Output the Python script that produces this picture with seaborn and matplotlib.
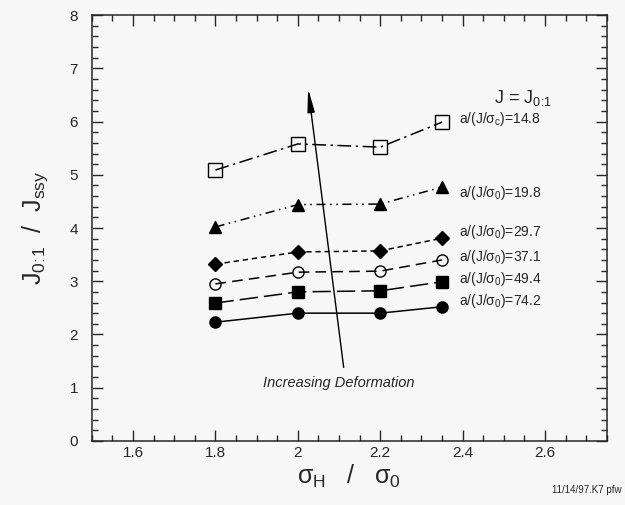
import numpy as np
import pandas as pd
import seaborn as sns
import matplotlib.pyplot as plt
from matplotlib.ticker import MultipleLocator

# values
stress_ratio = [1.8, 2.0, 2.2, 2.35]
j_sq_open = [5.09, 5.58, 5.52, 5.99]
j_tri = [4.02, 4.44, 4.45, 4.77]
j_diamond = [3.32, 3.55, 3.57, 3.81]
j_circ_open = [2.95, 3.17, 3.19, 3.40]
j_sq_filled = [2.59, 2.80, 2.82, 2.99]
j_circ_filled = [2.23, 2.40, 2.40, 2.52]
labels = ['a/(J/$\\sigma_c$)=14.8', 'a/(J/$\\sigma_0$)=19.8', 'a/(J/$\\sigma_0$)=29.7',
          'a/(J/$\\sigma_0$)=37.1', 'a/(J/$\\sigma_0$)=49.4', 'a/(J/$\\sigma_0$)=74.2']
label_y = [6.05, 4.65, 3.92, 3.46, 3.04, 2.62]

series = [j_sq_open, j_tri, j_diamond, j_circ_open, j_sq_filled, j_circ_filled]
rows = []
for lab, vals in zip(labels, series):
    for x, v in zip(stress_ratio, vals):
        rows.append({'ratio': x, 'J': v, 'case': lab})
df = pd.DataFrame(rows)

sns.set_style('ticks')
plt.rcParams['font.family'] = ['Liberation Sans', 'DejaVu Sans']
plt.rcParams['mathtext.fontset'] = 'custom'
plt.rcParams['mathtext.rm'] = 'Liberation Sans'
plt.rcParams['mathtext.it'] = 'Liberation Sans'

fig = plt.figure(figsize=(6.25, 5.05), dpi=100, facecolor='#f7f7f7')
ax = fig.add_axes([0.147, 0.127, 0.824, 0.843])
ax.set_facecolor('#f7f7f7')

styles = [
    ('s', 'none', (0, (9, 3, 1.5, 3))),
    ('^', 'k', (0, (6, 3, 1, 3, 1, 3))),
    ('D', 'k', (0, (3.5, 2.5))),
    ('o', 'none', (0, (7, 4))),
    ('s', 'k', (0, (12, 4))),
    ('o', 'k', '-'),
]
sizes = [10, 8, 7, 8, 9, 8]
for (lab, (mk, fc, ls)), ms in zip(zip(labels, styles), sizes):
    sub = df[df['case'] == lab]
    sns.lineplot(data=sub, x='ratio', y='J', ax=ax, color='k', lw=1.1,
                 linestyle=ls, marker=mk, markersize=ms, markerfacecolor=fc,
                 markeredgecolor='k', markeredgewidth=1.0, legend=False)

for lab, ly in zip(labels, label_y):
    ax.text(2.39, ly, lab, fontsize=10, va='center', ha='left')

ax.text(2.475, 6.45, 'J = J$_{0\\!:\\!1}$', fontsize=13, va='center', ha='left')
ax.annotate('', xy=(2.024, 6.67), xytext=(2.112, 1.33),
            arrowprops=dict(arrowstyle='-|>,head_length=1.4,head_width=0.22',
                            color='k', lw=1.0))
ax.text(2.10, 1.09, 'Increasing Deformation', fontsize=10.5, style='italic',
        ha='center', va='center')

ax.set_xlim(1.5, 2.75)
ax.set_ylim(0, 8)
ax.xaxis.set_major_locator(MultipleLocator(0.2))
ax.xaxis.set_minor_locator(MultipleLocator(0.05))
ax.yaxis.set_major_locator(MultipleLocator(1))
ax.yaxis.set_minor_locator(MultipleLocator(0.2))
ax.set_xticks([1.6, 1.8, 2.0, 2.2, 2.4, 2.6])
ax.set_xticklabels(['1.6', '1.8', '2', '2.2', '2.4', '2.6'])
ax.tick_params(which='both', direction='in', top=True, right=True,
               labelsize=11, width=1)
ax.tick_params(axis='y', pad=10)
ax.tick_params(which='major', length=8)
ax.tick_params(which='minor', length=4)
for s in ax.spines.values():
    s.set_linewidth(1.1)

ax.set_xlabel('$\\sigma_H$   /   $\\sigma_0$', fontsize=18, labelpad=2)
ax.set_ylabel('J$_{0\\!:\\!1}$  /  J$_{ssy}$', fontsize=18, labelpad=14)
fig.text(0.995, 0.03, '11/14/97.K7 pfw', fontsize=7, ha='right', va='center')

fig.savefig('out.png', dpi=100, facecolor=fig.get_facecolor())
